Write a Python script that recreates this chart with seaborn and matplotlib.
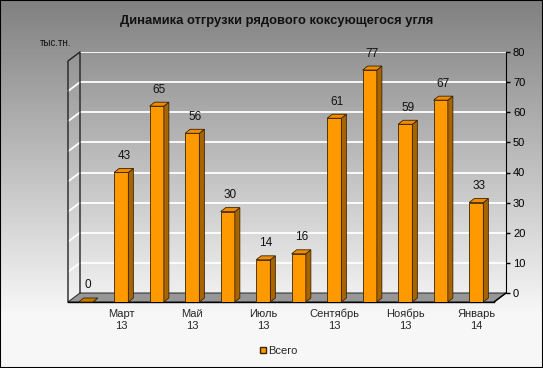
import numpy as np
import pandas as pd
import matplotlib
matplotlib.use("Agg")
import matplotlib.pyplot as plt
import matplotlib.patches as mpatches
import seaborn as sns

# data
months = ["Февраль\n13", "Март\n13", "Апрель\n13", "Май\n13", "Июнь\n13", "Июль\n13",
          "Август\n13", "Сентябрь\n13", "Октябрь\n13", "Ноябрь\n13", "Декабрь\n13", "Январь\n14"]
values = [0, 43, 65, 56, 30, 14, 16, 61, 77, 59, 67, 33]
y_ticks = [0, 10, 20, 30, 40, 50, 60, 70, 80]
title = "Динамика отгрузки рядового коксующегося угля"
unit = "тыс.тн."
series_name = "Всего"

FRONT = "#FF9900"
SIDE = "#A86400"
TOP = "#F08C00"
EDGE = "#3a2300"

sns.set_style("white")
plt.rcParams["font.family"] = ["Liberation Sans", "DejaVu Sans"]

W, H = 543, 368
fig = plt.figure(figsize=(W / 100, H / 100), dpi=100)

# background: grey-to-light vertical gradient
bg = fig.add_axes([0, 0, 1, 1], zorder=-10)
rows = np.clip(128 + (247 - 128) * np.arange(H) / 315.0, 0, 247) / 255.0
bg.imshow(rows[:, None], cmap="gray", vmin=0, vmax=1, aspect="auto",
          extent=[0, 1, 0, 1])
bg.set_axis_off()

# plot geometry (pixels)
x0, base, pw, ph = 68, 302, 426, 241
wdx, wdy = 12, 9          # depth of the 3-D box
bdx, bdy = 5, 4           # depth of each bar
ux, uy = pw / 12.0, ph / 80.0

# back wall with gridlines and the value axis
axb = fig.add_axes([(x0 + wdx) / W, (H - base + wdy) / H, pw / W, ph / H], zorder=0)
axb.set_facecolor("none")
axb.set_xlim(0, 12)
axb.set_ylim(0, 80)
axb.set_yticks(y_ticks)
axb.set_xticks([])
axb.yaxis.tick_right()
axb.tick_params(axis="y", direction="out", length=3, width=1, pad=2,
                labelsize=8, colors="black")
axb.grid(axis="y", color="white", lw=1.3)
for s in ["left", "top", "bottom"]:
    axb.spines[s].set_visible(False)
axb.spines["right"].set_color("black")

# front plane with the bars
ax = fig.add_axes([x0 / W, (H - base) / H, pw / W, ph / H], zorder=1)
ax.set_facecolor("none")
df = pd.DataFrame({"month": months, "value": values})
sns.barplot(data=df, x="month", y="value", color=FRONT, width=0.4,
            edgecolor=EDGE, linewidth=0.6, saturation=1, ax=ax, zorder=3)
bars = [p for p in ax.patches if isinstance(p, mpatches.Rectangle)]
ax.set_xlim(-0.5, 11.5)
ax.set_ylim(0, 80)
ax.set_xlabel("")
ax.set_ylabel("")
ax.set_yticks([])

DX, DY = wdx / ux, wdy / uy
bx, by = bdx / ux, bdy / uy

# floor
floor = mpatches.Polygon([(-0.5, 0), (11.5, 0), (11.5 + DX, DY), (-0.5 + DX, DY)],
                         closed=True, facecolor="#979797", edgecolor="#333333",
                         lw=0.8, clip_on=False, zorder=1)
ax.add_patch(floor)

# left wall
for k in y_ticks[1:-1]:
    ax.plot([-0.5, -0.5 + DX], [k, k + DY], color="white", lw=1.3,
            clip_on=False, zorder=1)
ax.plot([-0.5, -0.5, -0.5 + DX, -0.5 + DX], [0, 80, 80 + DY, DY],
        color="#222222", lw=1, clip_on=False, zorder=2)

# 3-D sides, tops and value labels
for p in bars:
    l, w, v = p.get_x(), p.get_width(), p.get_height()
    r = l + w
    side = mpatches.Polygon([(r, 0), (r, v), (r + bx, v + by), (r + bx, by)],
                            closed=True, facecolor=SIDE, edgecolor=EDGE, lw=0.6,
                            clip_on=False, zorder=3)
    top = mpatches.Polygon([(l, v), (r, v), (r + bx, v + by), (l + bx, v + by)],
                           closed=True, facecolor=TOP if v > 0 else "#C87800",
                           edgecolor=EDGE, lw=0.6, clip_on=False, zorder=3)
    ax.add_patch(side)
    ax.add_patch(top)
    ax.annotate(f"{v:.0f}", (l + w / 2 + bx / 2, v + by), xytext=(0, 9),
                textcoords="offset points", ha="center", va="center",
                fontsize=8.5, color="#111111", annotation_clip=False)

# category axis
ax.set_xticks(range(1, 12, 2))
ax.set_xticklabels([months[i] for i in range(1, 12, 2)], fontsize=8)
ax.set_xticks(np.arange(-0.5, 12, 1), minor=True)
ax.tick_params(axis="x", which="major", length=0, pad=5)
ax.tick_params(axis="x", which="minor", direction="out", length=4, width=1,
               color="black")
for s in ["left", "right", "top"]:
    ax.spines[s].set_visible(False)
ax.spines["bottom"].set_color("black")
ax.spines["bottom"].set_linewidth(1)
# slanted edge at the right end of the floor
ax.plot([11.5, 11.5 + DX], [0, DY], color="black", lw=1, clip_on=False, zorder=2)

fig.text(277 / W, 1 - 21 / H, title, ha="center", va="center",
         fontsize=9.4, fontweight="bold", color="#111111")
fig.text(40 / W, 1 - 43 / H, unit, ha="left", va="center", fontsize=7,
         color="#111111")

fig.legend(handles=[mpatches.Patch(facecolor=FRONT, edgecolor=EDGE, label=series_name)],
           loc="center", bbox_to_anchor=(279 / W, 1 - 351 / H), frameon=False,
           fontsize=8, handlelength=0.55, handleheight=0.55, handletextpad=0.2)

fig.patches.append(mpatches.Rectangle((0, 0), 1, 1, transform=fig.transFigure,
                                      fill=False, edgecolor="black", lw=1.5))

fig.savefig("out.png", dpi=100)
